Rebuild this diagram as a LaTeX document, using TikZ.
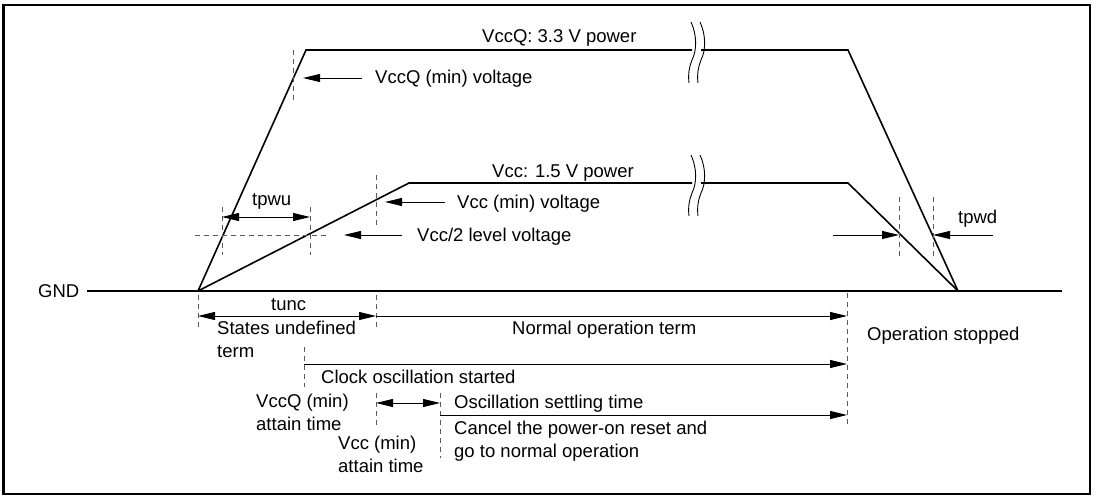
\documentclass[tikz,border=0pt]{standalone}
\usepackage{fontspec}
\setmainfont{Liberation Sans}
\usetikzlibrary{arrows.meta}
\begin{document}
\begin{tikzpicture}[x=1pt,y=-1pt,
  sig/.style={line width=1.6pt, line join=miter},
  gline/.style={line width=1.8pt},
  guide/.style={black!65, line width=0.9pt, dash pattern=on 5pt off 4pt},
  dim/.style={line width=0.9pt},
  tip/.style={-{Triangle[length=17pt,width=8pt]}},
  both/.style={{Triangle[length=17pt,width=8pt]}-{Triangle[length=17pt,width=8pt]}},
  lbl/.style={inner sep=0pt, font=\fontsize{18.5}{23}\selectfont, anchor=base west},
  brk/.style={line width=0.9pt}
]
\useasboundingbox (0,0) rectangle (1100,496);
\draw[line width=2.6pt] (3.5,5) rectangle (1090,494);

% key points of the waveforms
\coordinate (O) at (198,291);
\coordinate (QT1) at (306,50);
\coordinate (QT2) at (848,50);
\coordinate (E) at (958,291);
\coordinate (CT1) at (409,183);
\coordinate (CT2) at (848,183);

% GND
\node[lbl] (gnd) at (38,297) {GND};
\coordinate (gndL) at (87,291);
\coordinate (gndR) at (1062,291);
\draw[gline] (gndL) -- (gndR);

% VccQ waveform with break
\draw[sig] (O) -- (QT1) -- (692,50);
\draw[sig] (701,50) -- (QT2) -- (E);
% Vcc waveform with break
\draw[sig] (O) -- (CT1) -- (692,183);
\draw[sig] (701,183) -- (CT2) -- (E);

% break marks
\foreach \yc in {50,183}{
  \foreach \dx in {0,9}{
    \draw[brk] (691+\dx,\yc-28) .. controls (697+\dx,\yc-15) and (697+\dx,\yc) .. (692+\dx,\yc+10)
      .. controls (689+\dx,\yc+17) and (688+\dx,\yc+25) .. (689+\dx,\yc+33);
  }
}

% labels top
\node[lbl] (vccq) at (482,42) {VccQ: 3.3 V power};
\node[lbl] (vcc) at (492,177) {Vcc: 1.5 V power};

% VccQ (min) voltage
\draw[guide] (293,50) -- (293,100);
\node[lbl] (vqmin) at (375,83) {VccQ (min) voltage};
\draw[dim,tip] (362,78) -- (303,78);

% Vcc (min) voltage
\draw[guide] (376,175) -- (376,225);
\node[lbl] (vcmin) at (457,208) {Vcc (min) voltage};
\draw[dim,tip] (445,202) -- (385,202);

% Vcc/2 level
\draw[guide] (195,235) -- (328,235);
\node[lbl] (vhalf) at (417,241) {Vcc/2 level voltage};
\draw[dim,tip] (402,235) -- (344,235);

% tpwu
\draw[guide] (222,207) -- (222,255);
\draw[guide] (310,207) -- (310,255);
\draw[dim,both] (222,217) -- (310,217);
\node[lbl] (tpwu) at (252,205) {tpwu};

% tpwd
\draw[guide] (899,197) -- (899,257);
\draw[guide] (933,197) -- (933,257);
\draw[dim,tip] (833,235) -- (899,235);
\draw[dim,tip] (993,235) -- (933,235);
\node[lbl] (tpwd) at (958,223) {tpwd};

% bottom: tunc / normal operation
\draw[guide] (198,295) -- (198,328);
\draw[guide] (376,295) -- (376,328);
\draw[dim,both] (198,316) -- (376,316);
\draw[dim,tip] (376,316) -- (847,316);
\draw[guide] (847,293) -- (847,425);
\node[lbl] (tunc) at (271,310) {tunc};
\node[lbl] (sud) at (217,334) {\begin{tabular}[t]{@{}l@{}}States undefined\\term\end{tabular}};
\node[lbl] (nop) at (512,334) {Normal operation term};
\node[lbl] (ostop) at (867,340) {Operation stopped};

% clock oscillation
\draw[guide] (304,347) -- (304,387);
\draw[dim,tip] (304,364) -- (847,364);
\node[lbl] (clk) at (321,383) {Clock oscillation started};
\node[lbl] (vqat) at (256,407) {\begin{tabular}[t]{@{}l@{}}VccQ (min)\\attain time\end{tabular}};

% oscillation settling
\draw[guide] (376,393) -- (376,427);
\draw[guide] (440,393) -- (440,458);
\draw[dim,both] (376,403) -- (440,403);
\draw[dim,tip] (440,415) -- (847,415);
\node[lbl] (ost) at (454,408) {Oscillation settling time};
\node[lbl] (canc) at (454,434) {\begin{tabular}[t]{@{}l@{}}Cancel the power-on reset and\\go to normal operation\end{tabular}};
\node[lbl] (vcat) at (338,449) {\begin{tabular}[t]{@{}l@{}}Vcc (min)\\attain time\end{tabular}};
\end{tikzpicture}
\end{document}
